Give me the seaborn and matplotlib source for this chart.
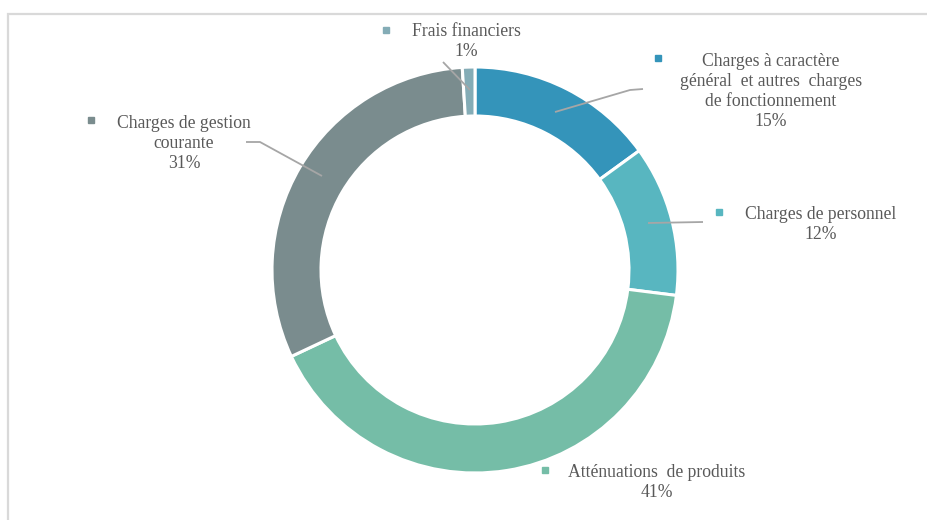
import matplotlib
matplotlib.use("Agg")
import matplotlib.pyplot as plt
import seaborn as sns

# Expense breakdown (share of total, %), clockwise from 12 o'clock
categories = [
    "Charges à caractère\ngénéral  et autres  charges\nde fonctionnement",
    "Charges de personnel",
    "Atténuations  de produits",
    "Charges de gestion\ncourante",
    "Frais financiers",
]
shares = [15, 12, 41, 31, 1]
colors = ["#3494BA", "#58B6C0", "#75BDA7", "#7A8C8E", "#84ACB6"]

sns.set_theme(style="white")
plt.rcParams["font.family"] = ["Liberation Serif", "DejaVu Serif"]

W, H = 928, 520
fig = plt.figure(figsize=(W / 100, H / 100), dpi=100)
ax = fig.add_axes([0, 0, 1, 1])

# ring centred in pixel space (y measured from bottom)
cx, cy, r_out, ring = 475, H - 270, 203, 49
ax.pie(
    shares,
    colors=colors,
    startangle=90,
    counterclock=False,
    radius=r_out,
    center=(cx, cy),
    wedgeprops=dict(width=ring, edgecolor="white", linewidth=2.2),
)
ax.set_xlim(0, W)
ax.set_ylim(0, H)
ax.set_aspect("equal")
ax.set_axis_off()

# chart-area border (left and top edges visible)
ax.plot([8.5, 8.5, W + 5], [-5, H - 14, H - 14], color="#D9D9D9", lw=1.6,
        solid_joinstyle="miter", clip_on=False)

text_color = "#595959"
line_color = "#A6A6A6"
fs = 12.7
line_step = 20


def py(y):
    return H - y


# label layout: (text centre x, first-line y, marker x, marker y, leader path)
layout = [
    (771, 61, 658, 58, [(555, 112), (630, 90), (643, 89)]),
    (821, 214, 719, 212, [(648, 223), (703, 222)]),
    (657, 473, 545, 470, None),
    (184, 123, 91, 120, [(246, 142), (260, 142), (322, 176)]),
    (466, 31, 386, 30, [(443, 62), (470, 90)]),
]

for name, val, col, (tx, ty, mx, my, path) in zip(categories, shares, colors, layout):
    lines = name.split("\n") + [f"{val}%"]
    for i, line in enumerate(lines):
        ax.text(tx, py(ty + i * line_step), line, ha="center", va="center",
                fontsize=fs, color=text_color)
    ax.plot([mx], [py(my)], marker="s", ms=4.5, color=col, mec=col, ls="none")
    if path:
        xs = [p[0] for p in path]
        ys = [py(p[1]) for p in path]
        ax.plot(xs, ys, color=line_color, lw=1.3, solid_capstyle="butt")

fig.savefig("out.png", dpi=100, facecolor="white")
